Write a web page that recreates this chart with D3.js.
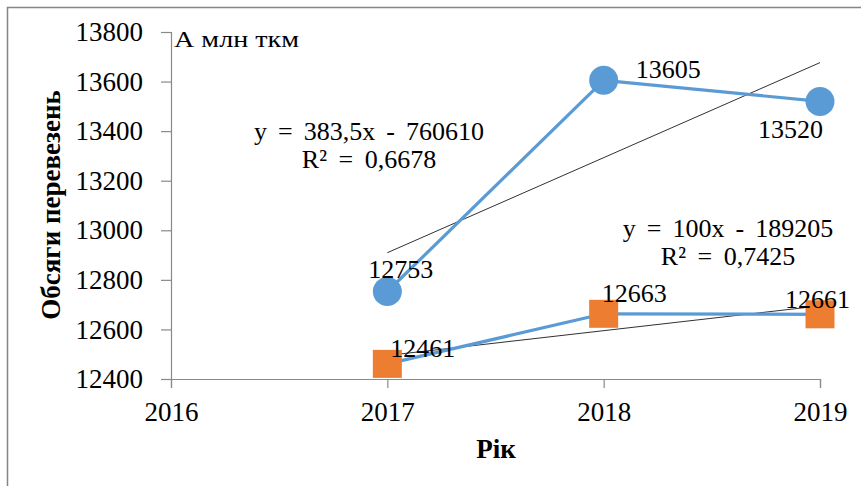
<!DOCTYPE html>
<html><head><meta charset="utf-8">
<script src="https://cdn.jsdelivr.net/npm/d3@7"></script>
<style>body{margin:0;background:#fff}svg{display:block}text{font-family:"Liberation Serif","Times New Roman",serif;fill:#000}</style>
</head><body><svg id="c" width="861" height="486"></svg>
<script>
const years = [2017, 2018, 2019];
const seriesA = [12753, 13605, 13520];
const seriesB = [12461, 12663, 12661];
const xTicks = [2016, 2017, 2018, 2019];
const yTicks = [12400, 12600, 12800, 13000, 13200, 13400, 13600, 13800];
const trendA = {slope: 383.5, intercept: -760610, eq: "y = 383,5x - 760610", r2: "R² = 0,6678"};
const trendB = {slope: 100, intercept: -189205, eq: "y = 100x - 189205", r2: "R² = 0,7425"};

const svg = d3.select("#c");
const x = d3.scaleLinear().domain([2016, 2019]).range([171, 820]);
const y = d3.scaleLinear().domain([12400, 13800]).range([379, 32]);

// outer border (only left/top visible)
svg.append("path").attr("d","M7.5,486 L7.5,7.5 L861,7.5").attr("fill","none").attr("stroke","#858585").attr("stroke-width",1.5);

// axes
const ya = svg.append("g").attr("transform","translate(171,0)")
  .call(d3.axisLeft(y).tickValues(yTicks).tickSize(10).tickPadding(18).tickFormat(d3.format("d")));
const xa = svg.append("g").attr("transform","translate(0,379)")
  .call(d3.axisBottom(x).tickValues(xTicks).tickSize(9).tickPadding(14).tickFormat(d3.format("d")));
[ya, xa].forEach(g => {
  g.select(".domain").attr("stroke","#898989").attr("stroke-width",1.2);
  g.selectAll(".tick line").attr("stroke","#898989").attr("stroke-width",1.2);
  g.selectAll(".tick text").style("font-family",'"Liberation Serif",serif').style("font-size","27px").attr("fill","#000");
});
ya.select(".domain").attr("d","M-10,379.5H0.5V32.5H-10");

// trendlines
const tl = d3.line().x(d => x(d[0])).y(d => y(d[1]));
[trendA, trendB].forEach(t => {
  const pts = [2017, 2019].map(v => [v, t.slope * v + t.intercept]);
  svg.append("path").attr("d", tl(pts)).attr("fill","none").attr("stroke","#1a1a1a").attr("stroke-width",0.9);
});

// series lines
const line = d3.line().x((d,i) => x(years[i])).y(d => y(d));
[seriesA, seriesB].forEach(s => {
  svg.append("path").attr("d", line(s)).attr("fill","none").attr("stroke","#5B9BD5").attr("stroke-width",3.2).attr("stroke-linejoin","round");
});

// markers
svg.selectAll("circle.a").data(seriesA).enter().append("circle")
  .attr("cx",(d,i)=>x(years[i])).attr("cy",d=>y(d)).attr("r",14.5).attr("fill","#5B9BD5");
svg.selectAll("rect.b").data(seriesB).enter().append("rect")
  .attr("x",(d,i)=>x(years[i])-14.5).attr("y",d=>y(d)-14).attr("width",29).attr("height",28).attr("fill","#ED7D31");

// data labels
const labA = [[-19, -14, "start"], [32, -2, "start"], [-62, 37, "start"]];
const labB = [[3, -7, "start"], [-2, -12, "start"], [-35, -6, "start"]];
labA[0][0] = -19;
svg.selectAll("text.la").data(seriesA).enter().append("text")
  .attr("x",(d,i)=>x(years[i]) + labA[i][0]).attr("y",(d,i)=>y(d) + labA[i][1])
  .attr("text-anchor",(d,i)=>labA[i][2]).style("font-size","26px").text(d=>d);
svg.selectAll("text.lb").data(seriesB).enter().append("text")
  .attr("x",(d,i)=>x(years[i]) + labB[i][0]).attr("y",(d,i)=>y(d) + labB[i][1])
  .attr("text-anchor",(d,i)=>labB[i][2]).style("font-size","26px").text(d=>d);

// equations
function eqText(t, cx, by) {
  svg.append("text").attr("x",cx).attr("y",by).attr("text-anchor","middle").style("font-size","26px").style("word-spacing","4.5px").text(t.eq);
  svg.append("text").attr("x",cx).attr("y",by+28).attr("text-anchor","middle").style("font-size","26px").style("word-spacing","5px").text(t.r2);
}
eqText(trendA, 369, 140);
eqText(trendB, 728, 237);

// unit label
svg.append("text").attr("x",174).attr("y",47).style("font-size","24px")
  .attr("textLength",125).attr("lengthAdjust","spacingAndGlyphs").text("А млн ткм");

// axis titles
svg.append("text").attr("transform","translate(60,205) rotate(-90)").attr("text-anchor","middle")
  .style("font-size","27px").style("font-weight","bold").text("Обсяги перевезень");
svg.append("text").attr("x",496).attr("y",458).attr("text-anchor","middle")
  .style("font-size","27px").style("font-weight","bold").text("Рік");
</script></body></html>
